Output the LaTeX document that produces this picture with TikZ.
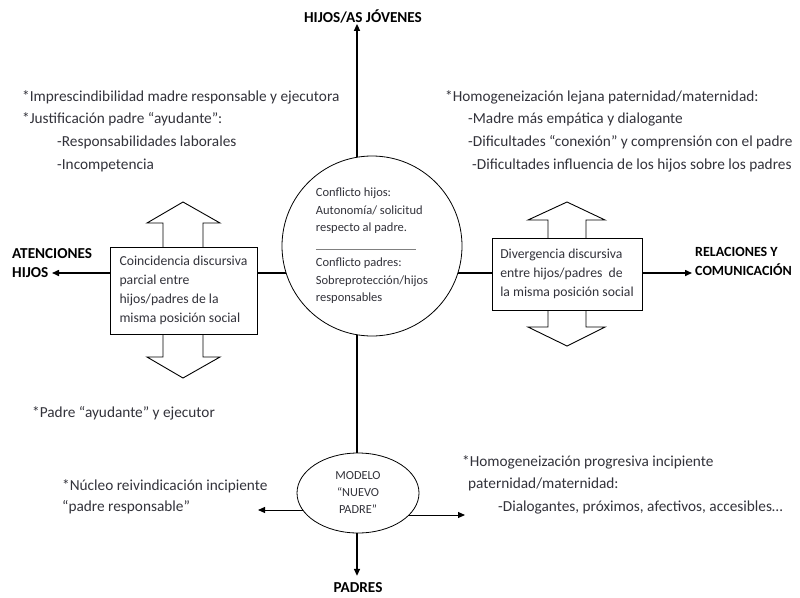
\documentclass[tikz,border=0pt]{standalone}
\usepackage{fontspec}
\setmainfont{Carlito}
\usetikzlibrary{arrows.meta,shapes,backgrounds}

\definecolor{textogris}{RGB}{50,50,58}

\begin{document}
\begin{tikzpicture}[x=1pt,y=-1pt,>={Triangle[length=7pt,width=6pt]},
        eje/.style={->,line width=1.5pt},
        flechita/.style={->,line width=1pt},
        etiqueta/.style={font=\bfseries\fontsize{15.2}{19}\selectfont,align=left,inner sep=0pt},
        texto/.style={text=textogris,font=\fontsize{15.3}{22.7}\selectfont,align=left,anchor=north west,inner sep=0pt},
        caja/.style={draw,fill=white,line width=0.9pt,text=textogris,align=left,
          font=\fontsize{13.7}{19}\selectfont,inner sep=0pt},
        dobleflecha/.style={draw,fill=white,line width=0.9pt}]

  \useasboundingbox (0,0) rectangle (800,597);

  % centro y cajas
  \node[circle,draw,fill=white,line width=0.8pt,minimum size=180pt,inner sep=0pt,
        text=textogris,align=left,font=\fontsize{12.5}{17.5}\selectfont] (conflicto) at (372,246)
        {Conflicto hijos:\\Autonomía/ solicitud\\respecto al padre.\\{\color{gray}\rule{100pt}{0.5pt}}\\Conflicto padres:\\Sobreprotección/hijos\\responsables};
  \node[caja,minimum width=147pt,minimum height=87pt] (coincidencia) at (183.5,290.5)
        {Coincidencia discursiva\\parcial entre\\hijos/padres de la\\misma posición social};
  \node[caja,minimum width=150pt,minimum height=72pt] (divergencia) at (567,274)
        {Divergencia discursiva\\entre hijos/padres\ \ de\\la misma posición social};
  \node[ellipse,draw,fill=white,line width=0.8pt,minimum width=122pt,minimum height=80pt,inner sep=0pt,
        text=textogris,align=center,font=\fontsize{12.3}{17}\selectfont] (nuevo) at (358,493)
        {MODELO\\“NUEVO\\PADRE”};

  % ejes
  \coordinate (origen) at (357,273);
  \coordinate (puntaizq) at (52,273);
  \coordinate (puntader) at (692,273);
  \coordinate (puntanucleo) at (258,510);
  \coordinate (puntahomog) at (465,515);

  \node[etiqueta,anchor=base] (hijos) at (363,23) {HIJOS/AS JÓVENES};
  \node[etiqueta,anchor=base] (padres) at (358,592) {PADRES};
  \node[etiqueta,anchor=north west] (atenciones) at (12,248) {ATENCIONES\\HIJOS};
  \node[etiqueta,anchor=north west,font=\bfseries\fontsize{14}{19}\selectfont] (relaciones) at (695,247)
        {RELACIONES Y\\COMUNICACIÓN};

  % textos
  \node[texto] (imprescindible) at (22,90)
        {*Imprescindibilidad madre responsable y ejecutora\\*Justificación padre “ayudante”:\\
         \hspace*{35pt}-Responsabilidades laborales\\\hspace*{35pt}-Incompetencia};
  \node[texto] (lejana) at (445,90)
        {*Homogeneización lejana paternidad/maternidad:\\\hspace*{23pt}-Madre más empática y dialogante\\
         \hspace*{23pt}-Dificultades “conexión” y comprensión con el padre\\
         \hspace*{27pt}-Dificultades influencia de los hijos sobre los padres};
  \node[texto] (ayudante) at (32,406) {*Padre “ayudante” y ejecutor};
  \node[texto,font=\fontsize{15.3}{21}\selectfont] (nucleo) at (62,479)
        {*Núcleo reivindicación incipiente\\“padre responsable”};
  \node[texto] (progresiva) at (462,455)
        {*Homogeneización progresiva incipiente\\\hspace*{6pt}paternidad/maternidad:\\
         \hspace*{36pt}-Dialogantes, próximos, afectivos, accesibles…};

  \begin{scope}[on background layer]
    \draw[dobleflecha] (163,290) -- (163,223) -- (147,223) -- (183,202) -- (220,223) -- (203,223)
      -- (203,357) -- (220,357) -- (183,378) -- (147,357) -- (163,357) -- cycle;
    \draw[dobleflecha] (548,274) -- (548,220) -- (528,220) -- (567,202) -- (605,220) -- (586,220)
      -- (586,327) -- (605,327) -- (567,346) -- (528,327) -- (548,327) -- cycle;
    \draw[eje] (origen) -- (origen |- hijos.south);
    \draw[eje,shorten >=6pt] (origen) -- (origen |- padres.north);
    \draw[eje] (origen) -- (puntaizq);
    \draw[eje] (origen) -- (puntader);
    \draw[flechita] (nuevo.center |- puntanucleo) -- (puntanucleo);
    \draw[flechita] (nuevo.center |- puntahomog) -- (puntahomog);
  \end{scope}

\end{tikzpicture}
\end{document}
